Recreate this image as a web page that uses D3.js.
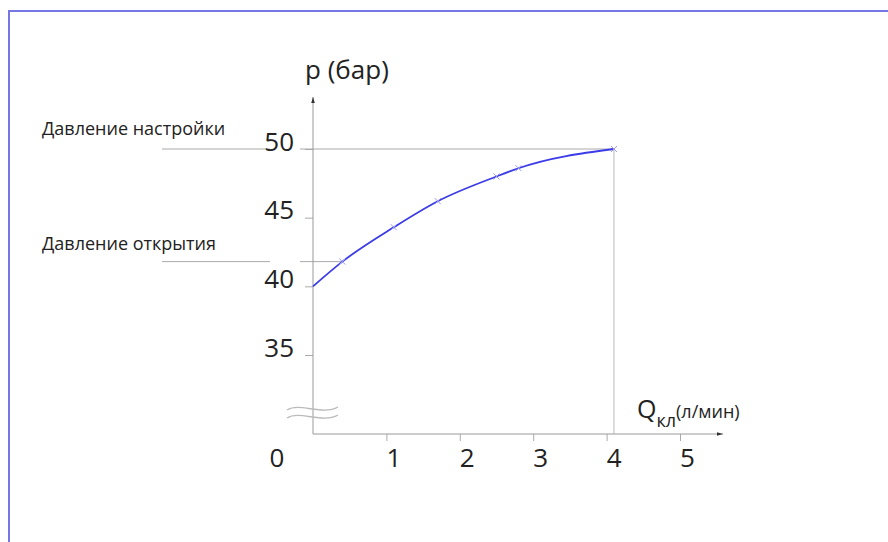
<!DOCTYPE html>
<html lang="ru">
<head>
<meta charset="UTF-8" />
<title>Характеристика клапана</title>
<script src="https://d3js.org/d3.v7.min.js"></script>
<style>
  body { margin: 0; background: #fff; }
  svg { display: block; font-family: "Open Sans", sans-serif; }
</style>
</head>
<body>
<svg width="888" height="542"></svg>
<script>
// data
const flow = [0, 0.4, 1.1, 1.7, 2.5, 2.8, 4.1];          // Q, л/мин
const pressure = [40, 41.8, 44.3, 46.2, 48.0, 48.6, 50];   // p, бар
const yTicks = [35, 40, 45, 50];
const xTicks = [1, 2, 3, 4, 5];
const setPressure = 50, openPressure = 41.8, maxFlow = 4.1, openFlow = 0.4;

const font = "'Open Sans', sans-serif";
const svg = d3.select("svg");

// frame (only top and left edges visible)
svg.append("rect")
  .attr("x", 9).attr("y", 11).attr("width", 1000).attr("height", 1000)
  .attr("fill", "none").attr("stroke", "#7676e4").attr("stroke-width", 2);

let x = d3.scaleLinear().domain([0, 5]).range([313, 680]);
let y = d3.scaleLinear().domain([35, 50]).range([355, 149]);
const axisY = 434;

const defs = svg.append("defs");
defs.append("marker").attr("id", "arrow")
  .attr("viewBox", "0 0 10 10").attr("refX", 10).attr("refY", 5)
  .attr("markerWidth", 8).attr("markerHeight", 6).attr("orient", "auto")
  .attr("markerUnits", "userSpaceOnUse")
  .append("path").attr("d", "M0,2 L10,5 L0,8 Z").attr("fill", "#333");

// reference lines (with gap behind the tick labels)
const refColor = "#aaa";
[[setPressure, maxFlow], [openPressure, openFlow]].forEach(([p, q]) => {
  svg.append("line").attr("x1", 162).attr("x2", 270)
    .attr("y1", y(p)).attr("y2", y(p)).attr("stroke", refColor);
  svg.append("line").attr("x1", 300).attr("x2", x(q))
    .attr("y1", y(p)).attr("y2", y(p)).attr("stroke", refColor);
});
svg.append("line").attr("x1", x(maxFlow)).attr("x2", x(maxFlow))
  .attr("y1", y(setPressure)).attr("y2", axisY).attr("stroke", "#bbb");

// y axis
let yAxis = svg.append("g").attr("transform", `translate(${x(0)},0)`)
  .call(d3.axisLeft(y).tickValues(yTicks).tickSize(8).tickPadding(11))
  .attr("font-family", font);
yAxis.select(".domain").remove();
yAxis.selectAll(".tick line").attr("stroke", "#aaa");
yAxis.selectAll(".tick text")
  .attr("font-size", 26).attr("fill", "#222").attr("dy", "0").attr("y", 1);

svg.append("line").attr("x1", x(0)).attr("x2", x(0))
  .attr("y1", axisY).attr("y2", 97)
  .attr("stroke", "#999").attr("marker-end", "url(#arrow)");

// x axis
let xAxis = svg.append("g").attr("transform", `translate(0,${axisY})`)
  .call(d3.axisBottom(x).tickValues(xTicks).tickFormat(d3.format("d")).tickSize(7).tickPadding(8))
  .attr("font-family", font);
xAxis.select(".domain").remove();
xAxis.selectAll(".tick line").attr("stroke", "#aaa");
xAxis.selectAll(".tick text")
  .attr("font-size", 26).attr("fill", "#222").attr("x", 7).attr("dy", "0").attr("y", 33);

svg.append("line").attr("x1", x(0)).attr("x2", 723)
  .attr("y1", axisY).attr("y2", axisY)
  .attr("stroke", "#999").attr("marker-end", "url(#arrow)");

svg.append("text").attr("x", 277).attr("y", axisY + 33)
  .attr("text-anchor", "middle").attr("font-size", 26).attr("fill", "#222").text("0");

// axis break
[410, 418].forEach(yy => {
  svg.append("path")
    .attr("d", `M287,${yy} C300,${yy - 8} 322,${yy + 6} 338,${yy - 3}`)
    .attr("fill", "none").attr("stroke", "#bbb").attr("stroke-width", 1.3);
});

// curve
const pts = flow.map((q, i) => [q, pressure[i]]);
svg.append("path").datum(pts)
  .attr("d", d3.line().x(d => x(d[0])).y(d => y(d[1])).curve(d3.curveMonotoneX))
  .attr("fill", "none").attr("stroke", "#3b3be8").attr("stroke-width", 1.8);

svg.append("g").selectAll("path").data(pts.slice(1)).join("path")
  .attr("transform", d => `translate(${x(d[0])},${y(d[1])})`)
  .attr("d", "M-3,-3L3,3M-3,3L3,-3")
  .attr("stroke", "#9a9af2").attr("stroke-width", 1);

// texts
svg.append("text").attr("x", 305).attr("y", 79)
  .attr("font-size", 26).attr("fill", "#222").text("p (бар)");
svg.append("text").attr("x", 42).attr("y", 135)
  .attr("font-size", 18).attr("fill", "#222").text("Давление настройки");
svg.append("text").attr("x", 42).attr("y", 250)
  .attr("font-size", 18).attr("fill", "#222").text("Давление открытия");

let qLabel = svg.append("text").attr("x", 637).attr("y", 418).attr("fill", "#222");
qLabel.append("tspan").attr("font-size", 25).text("Q");
qLabel.append("tspan").attr("font-size", 18).attr("dy", 9).text("кл");
qLabel.append("tspan").attr("font-size", 18).attr("dy", -9).text("(л/мин)");
</script>
</body>
</html>
